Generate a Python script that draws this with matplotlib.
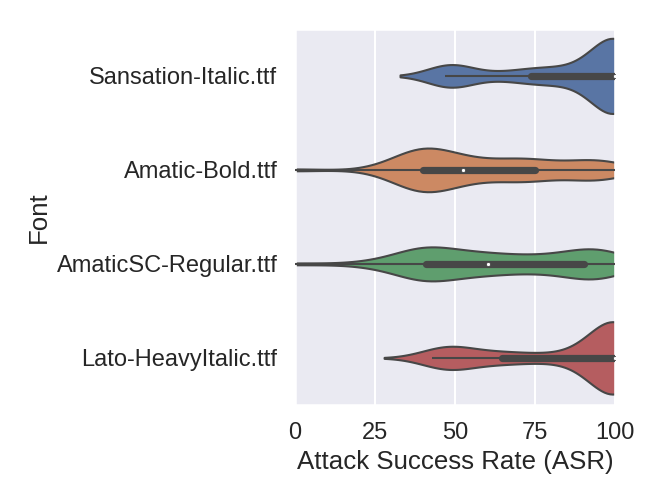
import matplotlib
matplotlib.use("Agg")
import matplotlib.pyplot as plt
import seaborn as sns
import pandas as pd
import numpy as np

# ASR values (%) per font
fonts = ["Sansation-Italic.ttf", "Amatic-Bold.ttf", "AmaticSC-Regular.ttf", "Lato-HeavyItalic.ttf"]

sansation_italic = [47, 47, 47, 48, 48, 48, 49, 49, 50, 51,
                    53, 62, 66, 70, 73, 74, 76, 78, 79, 82,
                    84, 85, 88, 90, 92, 95, 97, 98, 99,
                    100, 100, 100, 100, 100, 100, 100, 100, 100, 100,
                    100, 100, 100, 100, 100, 100, 100, 100, 100, 100,
                    100, 100, 100, 100, 100, 100, 100, 100, 100, 100, 100]
amatic_bold = [0, 27, 31, 33, 34, 35, 36, 37, 37, 38,
               38, 39, 39, 40, 40, 40, 41, 41, 42, 42,
               43, 44, 45, 46, 47, 48, 49, 50, 51, 52,
               53, 55, 57, 59, 61, 63, 65, 67, 68, 70,
               71, 72, 73, 74, 75, 75, 78, 81, 85, 88,
               90, 91, 92, 93, 94, 96, 97, 98, 100, 100]
amaticsc_regular = [0, 20, 27, 31, 34, 36, 37, 38, 39, 39,
                    40, 40, 41, 41, 41, 41, 42, 43, 44, 45,
                    46, 48, 50, 52, 54, 55, 56, 57, 58, 60,
                    61, 63, 65, 67, 69, 71, 73, 75, 77, 79,
                    81, 83, 85, 88, 90, 91, 91, 92, 92, 93,
                    93, 94, 94, 95, 96, 97, 98, 99, 100, 100]
lato_heavyitalic = [43, 44, 45, 46, 47, 48, 48, 49, 50, 51,
                    52, 53, 59, 62, 64, 65, 68, 72, 76, 80,
                    84, 87, 90, 93, 95, 97, 98, 99,
                    100, 100, 100, 100, 100, 100, 100, 100, 100, 100,
                    100, 100, 100, 100, 100, 100, 100, 100, 100, 100,
                    100, 100, 100, 100, 100, 100, 100, 100, 100, 100, 100, 100]

values = [sansation_italic, amatic_bold, amaticsc_regular, lato_heavyitalic]
rows = []
for name, vals in zip(fonts, values):
    for v in vals:
        rows.append({"Font": name, "ASR": v})
df = pd.DataFrame(rows)

sns.set_theme(style="darkgrid", context="talk")
plt.rcParams["font.family"] = ["Liberation Sans", "DejaVu Sans"]

gray = "#474747"

fig = plt.figure(figsize=(6.64, 4.98), dpi=100)
ax = fig.add_axes([0.444, 0.187, 0.482, 0.755])

sns.violinplot(data=df, x="ASR", y="Font", hue="Font", order=fonts, hue_order=fonts,
               legend=False, inner=None, bw_adjust=0.8, linewidth=1.5,
               density_norm="area", common_norm=True,
               linecolor=gray, ax=ax)

# inner box: whiskers at 1.5 IQR, thick box q1-q3, white median dot
for i, vals in enumerate(values):
    vals = np.asarray(vals, dtype=float)
    q25, q50, q75 = np.percentile(vals, [25, 50, 75])
    lim = 1.5 * (q75 - q25)
    lo = vals[vals >= q25 - lim].min()
    hi = vals[vals <= q75 + lim].max()
    ax.plot([lo, hi], [i, i], color=gray, lw=1.5, solid_capstyle="butt", zorder=3)
    ax.plot([q25, q75], [i, i], color=gray, lw=5.2, solid_capstyle="round", zorder=3)
    ax.scatter([q50], [i], s=9, color="white", edgecolor=gray, linewidth=0.6, zorder=4)

ax.set_xlim(0, 100)
ax.set_ylim(3.5, -0.5)
ax.set_xticks([0, 25, 50, 75, 100])
ax.tick_params(labelsize=17)
ax.set_xlabel("Attack Success Rate (ASR)", fontsize=18.6)
ax.set_ylabel("Font", fontsize=18.6)

fig.savefig("out.png", dpi=100)
plt.close(fig)
